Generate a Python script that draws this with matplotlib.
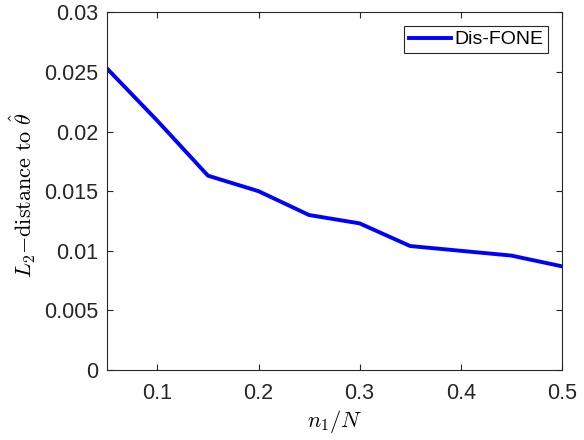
import matplotlib
matplotlib.use("Agg")
import matplotlib.pyplot as plt

# data
ratio = [0.05, 0.10, 0.15, 0.20, 0.25, 0.30, 0.35, 0.40, 0.45, 0.50]
dist = [0.0253, 0.0209, 0.0163, 0.0150, 0.0130, 0.0123, 0.0104, 0.0100, 0.0096, 0.0087]
xticks = [0.1, 0.2, 0.3, 0.4, 0.5]
yticks = [0, 0.005, 0.01, 0.015, 0.02, 0.025, 0.03]
ytick_labels = ["0", "0.005", "0.01", "0.015", "0.02", "0.025", "0.03"]

plt.rcParams["font.family"] = ["Liberation Sans", "DejaVu Sans"]
plt.rcParams["mathtext.fontset"] = "cm"

fig = plt.figure(figsize=(5.84, 4.4), dpi=100)
ax = fig.add_axes([0.183, 0.159, 0.779, 0.813])

ax.plot(ratio, dist, color="#0000ff", linewidth=2.8, label="Dis-FONE")

ax.set_xlim(0.05, 0.5)
ax.set_ylim(0, 0.03)
ax.set_xticks(xticks)
ax.set_xticklabels([str(t) for t in xticks])
ax.set_yticks(yticks)
ax.set_yticklabels(ytick_labels)
ax.tick_params(direction="in", top=True, right=True, labelsize=15.5,
               color="#262626", labelcolor="#262626", length=4)
ax.tick_params(axis="x", pad=9)
ax.tick_params(axis="y", pad=6)
for s in ax.spines.values():
    s.set_color("#262626")
    s.set_linewidth(0.8)

ax.set_xlabel(r"$n_1/N$", fontsize=16)
ax.set_ylabel(r"$L_2{-}\mathrm{distance\ to\ }\hat{\theta}$", fontsize=16)
ax.xaxis.set_label_coords(0.5, -0.105)
ax.yaxis.set_label_coords(-0.152, 0.49)

leg = ax.legend(loc="upper right", fontsize=14, fancybox=False, framealpha=1,
                edgecolor="#262626", handlelength=2.2, borderpad=0.25,
                handletextpad=0.15, borderaxespad=0.7)
leg.get_frame().set_linewidth(0.8)

fig.savefig("out.png", dpi=100)
